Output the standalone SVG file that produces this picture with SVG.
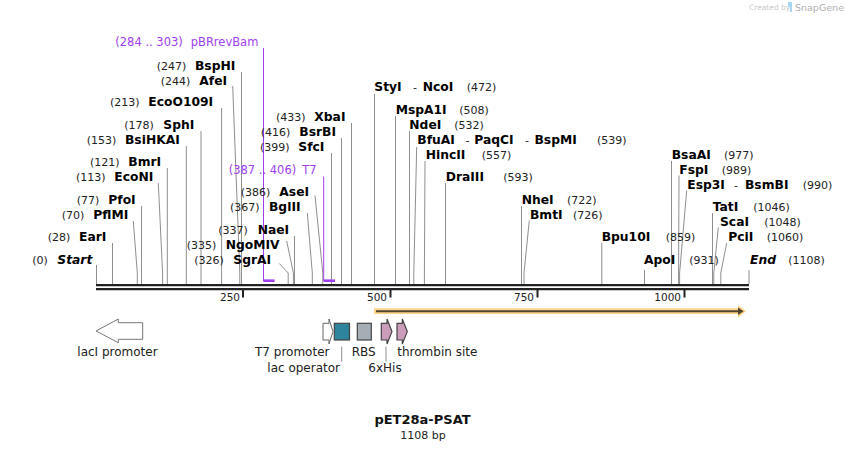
<svg xmlns="http://www.w3.org/2000/svg" width="846" height="450" viewBox="0 0 846 450">
<style>
text{font-family:"DejaVu Sans","Verdana",sans-serif}
.n{font-size:12.3px;font-weight:bold;fill:#000}
.i{font-style:italic}
.p{font-size:11px;fill:#222}
.d{font-size:11px;fill:#222}
.pr{font-size:11.5px;fill:#a03ef0}
.f{font-size:12px;fill:#222}
.t{font-size:10.5px;fill:#222}
.cut{stroke:#8f8f8f;stroke-width:1;fill:none}
.prl{stroke:#a03ef0;stroke-width:1;fill:none}
.prb{stroke:#a03ef0;stroke-width:2.6;fill:none}
.bb{stroke:#222;stroke-width:2.3}
.tk{stroke:#222;stroke-width:2}
.fs{stroke:#444;stroke-width:1.2}
</style>
<rect width="846" height="450" fill="#fff"/>

<g id="watermark">
<text x="749" y="10" style="font-size:7.5px;fill:#c8c8c8">Created by</text>
<path d="M788,2 h4 v10 h-2 v-5 h-2 z" fill="#a8d6f2"/>
<text x="795" y="11" style="font-size:9.5px;fill:#b0b0b0">SnapGene</text>
</g>

<g id="backbone">
<line class="bb" x1="96" y1="285.2" x2="749" y2="285.2"/>
<line class="bb" x1="96" y1="289.2" x2="749" y2="289.2"/>
<line class="tk" x1="243" y1="289" x2="243" y2="297.5"/>
<line class="tk" x1="390.5" y1="289" x2="390.5" y2="297.5"/>
<line class="tk" x1="537.5" y1="289" x2="537.5" y2="297.5"/>
<line class="tk" x1="684.5" y1="289" x2="684.5" y2="297.5"/>
<text class="t" x="240" y="301" text-anchor="end">250</text>
<text class="t" x="387" y="301" text-anchor="end">500</text>
<text class="t" x="534" y="301" text-anchor="end">750</text>
<text class="t" x="681" y="301" text-anchor="end">1000</text>
</g>

<g id="connectors">
<line class="cut" x1="96.5" y1="265" x2="96.5" y2="284"/>
<line class="cut" x1="112.5" y1="243" x2="112.5" y2="284"/>
<polyline class="cut" points="133.3,221 137.3,273 137.3,284"/>
<line class="cut" x1="141.5" y1="206" x2="141.5" y2="284"/>
<polyline class="cut" points="158.3,183 162.6,273 162.6,284"/>
<line class="cut" x1="167.3" y1="168" x2="167.3" y2="284"/>
<line class="cut" x1="186.3" y1="146" x2="186.3" y2="284"/>
<line class="cut" x1="201" y1="131" x2="201" y2="284"/>
<line class="cut" x1="221.6" y1="108" x2="221.6" y2="284"/>
<polyline class="cut" points="232.7,86 239.8,273 239.8,284"/>
<line class="cut" x1="241.5" y1="72" x2="241.5" y2="284"/>
<polyline class="cut" points="279.3,263.5 288.2,273 288.2,284"/>
<polyline class="cut" points="286.7,241 293.4,273 293.4,284"/>
<line class="cut" x1="294.5" y1="236" x2="294.5" y2="284"/>
<polyline class="cut" points="307.3,213 312.3,273 312.3,284"/>
<polyline class="cut" points="315,195.5 322.8,273 322.8,284"/>
<line class="cut" x1="331.5" y1="153" x2="331.5" y2="284"/>
<line class="cut" x1="341.5" y1="138" x2="341.5" y2="284"/>
<line class="cut" x1="351.5" y1="123" x2="351.5" y2="284"/>
<line class="cut" x1="374.5" y1="94" x2="374.5" y2="284"/>
<line class="cut" x1="395.5" y1="116" x2="395.5" y2="284"/>
<line class="cut" x1="409.5" y1="131" x2="409.5" y2="284"/>
<polyline class="cut" points="416.7,147 413.8,273 413.8,284"/>
<polyline class="cut" points="425,161 424.4,273 424.4,284"/>
<line class="cut" x1="445.5" y1="183" x2="445.5" y2="284"/>
<line class="cut" x1="521.5" y1="206" x2="521.5" y2="284"/>
<polyline class="cut" points="529.3,220.5 524,273 524,284"/>
<line class="cut" x1="601.8" y1="243" x2="601.8" y2="284"/>
<line class="cut" x1="644.5" y1="270" x2="644.5" y2="284"/>
<line class="cut" x1="671.5" y1="161" x2="671.5" y2="284"/>
<polyline class="cut" points="679,175.5 678.6,273 678.6,284"/>
<polyline class="cut" points="686.7,190.5 679.6,273 679.6,284"/>
<line class="cut" x1="712.5" y1="213" x2="712.5" y2="284"/>
<polyline class="cut" points="718.3,227.5 713.8,273 713.8,284"/>
<polyline class="cut" points="726.7,243 720.8,273 720.8,284"/>
<line class="cut" x1="749" y1="270" x2="749" y2="284"/>
<polyline class="prl" points="263.5,48 263.5,281"/>
<line class="prb" x1="263.5" y1="280.7" x2="274.6" y2="280.7"/>
<polyline class="prl" points="323.7,176.5 323.7,281"/>
<line class="prb" x1="323.7" y1="280.7" x2="335" y2="280.7"/>
<line class="cut" x1="341.7" y1="346.7" x2="341.7" y2="361.7"/>
<line class="cut" x1="386" y1="346.7" x2="386" y2="361.7"/>
</g>

<g id="primer-pBRrevBam"><text class="pr" x="115.3" y="46">(284 .. 303)</text><text class="pr" x="190.7" y="46">pBRrevBam</text></g>
<g id="primer-T7"><text class="pr" x="228.7" y="173.5">(387 .. 406)</text><text class="pr" x="302.3" y="173.5">T7</text></g>

<g id="site-BspHI"><text class="p" x="156.7" y="69.5">(247)</text><text class="n" x="195" y="69.5">BspHI</text></g>
<g id="site-AfeI"><text class="p" x="160.7" y="84.5">(244)</text><text class="n" x="199.3" y="84.5">AfeI</text></g>
<g id="site-EcoO109I"><text class="p" x="110" y="106">(213)</text><text class="n" x="148.3" y="106">EcoO109I</text></g>
<g id="site-SphI"><text class="p" x="124.3" y="129">(178)</text><text class="n" x="163.3" y="129">SphI</text></g>
<g id="site-BsiHKAI"><text class="p" x="86.7" y="144">(153)</text><text class="n" x="125" y="144">BsiHKAI</text></g>
<g id="site-BmrI"><text class="p" x="90" y="166">(121)</text><text class="n" x="128.3" y="166">BmrI</text></g>
<g id="site-EcoNI"><text class="p" x="76" y="181">(113)</text><text class="n" x="114.3" y="181">EcoNI</text></g>
<g id="site-PfoI"><text class="p" x="76.7" y="204">(77)</text><text class="n" x="108.3" y="204">PfoI</text></g>
<g id="site-PflMI"><text class="p" x="61.7" y="219">(70)</text><text class="n" x="93.3" y="219">PflMI</text></g>
<g id="site-EarI"><text class="p" x="47.7" y="241">(28)</text><text class="n" x="79" y="241">EarI</text></g>
<g id="site-Start"><text class="p" x="32.3" y="264">(0)</text><text class="n i" x="57.3" y="264">Start</text></g>
<g id="site-SgrAI"><text class="p" x="194.3" y="264">(326)</text><text class="n" x="233.3" y="264">SgrAI</text></g>
<g id="site-NgoMIV"><text class="p" x="186.7" y="249">(335)</text><text class="n" x="225.7" y="249">NgoMIV</text></g>
<g id="site-NaeI"><text class="p" x="218.3" y="234">(337)</text><text class="n" x="257.7" y="234">NaeI</text></g>
<g id="site-BglII"><text class="p" x="230" y="211">(367)</text><text class="n" x="269" y="211">BglII</text></g>
<g id="site-AseI"><text class="p" x="240.7" y="196">(386)</text><text class="n" x="279.3" y="196">AseI</text></g>
<g id="site-SfcI"><text class="p" x="260" y="151">(399)</text><text class="n" x="298.3" y="151">SfcI</text></g>
<g id="site-BsrBI"><text class="p" x="260.7" y="136">(416)</text><text class="n" x="299.3" y="136">BsrBI</text></g>
<g id="site-XbaI"><text class="p" x="276" y="121">(433)</text><text class="n" x="314.3" y="121">XbaI</text></g>

<g id="site-StyI-NcoI"><text class="n" x="374.3" y="91">StyI</text><text class="d" x="415" y="91" text-anchor="middle">-</text><text class="n" x="422.7" y="91">NcoI</text><text class="p" x="466.7" y="91">(472)</text></g>
<g id="site-MspA1I"><text class="n" x="395.7" y="114">MspA1I</text><text class="p" x="459.3" y="114">(508)</text></g>
<g id="site-NdeI"><text class="n" x="409.3" y="129">NdeI</text><text class="p" x="454.3" y="129">(532)</text></g>
<g id="site-BfuAI-PaqCI-BspMI"><text class="n" x="417.3" y="144">BfuAI</text><text class="d" x="467.5" y="144" text-anchor="middle">-</text><text class="n" x="474.3" y="144">PaqCI</text><text class="d" x="527" y="144" text-anchor="middle">-</text><text class="n" x="534.5" y="144">BspMI</text><text class="p" x="597" y="144">(539)</text></g>
<g id="site-HincII"><text class="n" x="425.7" y="159">HincII</text><text class="p" x="481.7" y="159">(557)</text></g>
<g id="site-DraIII"><text class="n" x="445.7" y="181">DraIII</text><text class="p" x="503.3" y="181">(593)</text></g>
<g id="site-NheI"><text class="n" x="521.7" y="204">NheI</text><text class="p" x="567" y="204">(722)</text></g>
<g id="site-BmtI"><text class="n" x="530" y="219">BmtI</text><text class="p" x="573" y="219">(726)</text></g>
<g id="site-Bpu10I"><text class="n" x="601.7" y="241">Bpu10I</text><text class="p" x="665.7" y="241">(859)</text></g>
<g id="site-ApoI"><text class="n" x="644" y="263.5">ApoI</text><text class="p" x="689.3" y="263.5">(931)</text></g>
<g id="site-End"><text class="n i" x="750" y="263.5">End</text><text class="p" x="788.3" y="263.5">(1108)</text></g>
<g id="site-BsaAI"><text class="n" x="671.7" y="158.5">BsaAI</text><text class="p" x="724" y="158.5">(977)</text></g>
<g id="site-FspI"><text class="n" x="679.3" y="173.5">FspI</text><text class="p" x="721.7" y="173.5">(989)</text></g>
<g id="site-Esp3I-BsmBI"><text class="n" x="687.3" y="189">Esp3I</text><text class="d" x="736" y="189" text-anchor="middle">-</text><text class="n" x="745" y="189">BsmBI</text><text class="p" x="802.7" y="189">(990)</text></g>
<g id="site-TatI"><text class="n" x="712.7" y="211">TatI</text><text class="p" x="753.3" y="211">(1046)</text></g>
<g id="site-ScaI"><text class="n" x="720" y="226">ScaI</text><text class="p" x="764.3" y="226">(1048)</text></g>
<g id="site-PciI"><text class="n" x="728.3" y="241">PciI</text><text class="p" x="766.7" y="241">(1060)</text></g>

<g id="feature-ORF">
<path d="M374,308.3 H738 V305 L746,311.2 L738,317.5 V314 H374 Z" fill="#ffd387"/>
<line x1="376" y1="311.3" x2="739" y2="311.3" stroke="#4f4532" stroke-width="2"/>
<path d="M738,307.6 L743.6,311.3 L738,315 Z" fill="#4f4532"/>
</g>

<g id="feature-lacI-promoter">
<path d="M142.7,322.7 H118.3 V319 L96,331 L118.3,342.7 V339.3 H142.7 Z" fill="#fff" stroke="#777" stroke-width="1"/>
<text class="f" x="77.3" y="356">lacI promoter</text>
</g>
<g id="feature-T7-promoter">
<path d="M323,323.3 H329 V319 L333,331.6 L329,344 V340 H323 Z" fill="#fff" stroke="#666" stroke-width="1"/>
<text class="f" x="255" y="356">T7 promoter</text>
</g>
<g id="feature-lac-operator">
<rect class="fs" x="334.3" y="323.3" width="15.2" height="16.7" fill="#2e849c"/>
<text class="f" x="267.3" y="371.7">lac operator</text>
</g>
<g id="feature-RBS">
<rect class="fs" x="357.3" y="323.3" width="14" height="16.7" fill="#a5adb5"/>
<text class="f" x="351.7" y="356">RBS</text>
</g>
<g id="feature-6xHis">
<path class="fs" d="M381.3,323.3 H387 V319 L392,331.6 L387,344 V340 H381.3 Z" fill="#cc9cbb"/>
<text class="f" x="368.3" y="371.7">6xHis</text>
</g>
<g id="feature-thrombin-site">
<path class="fs" d="M397,323.3 H402.3 V319 L407.3,331.6 L402.3,344 V340 H397 Z" fill="#cc9cbb"/>
<text class="f" x="397.3" y="356">thrombin site</text>
</g>

<g id="title">
<text x="422.5" y="424" text-anchor="middle" style="font-size:13px;font-weight:bold;fill:#111">pET28a-PSAT</text>
<text x="423" y="438.5" text-anchor="middle" style="font-size:11px;fill:#222">1108 bp</text>
</g>
</svg>
